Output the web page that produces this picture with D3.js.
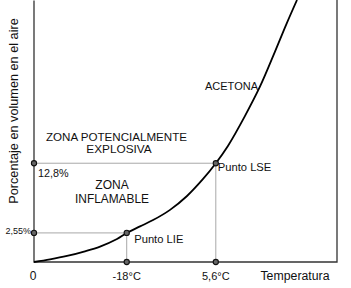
<!DOCTYPE html>
<html><head><meta charset="utf-8">
<script src="https://cdn.jsdelivr.net/npm/d3@7"></script>
<style>
html,body{margin:0;padding:0;background:#fff;}
svg{display:block;font-family:"Liberation Sans",Arial,Helvetica,sans-serif;}
</style></head>
<body>
<script>
// Acetona flammability curve (schematic units: x 0..100, y 0..100)
const curveX = [0,5.3,10.9,16.5,21.8,27.4,30.6,35,39.3,44.9,50.5,55.8,60,64,69.6,74.6,79.5,83.2,86.8];
const curveY = [0,1,2.3,4,5.9,8.8,11.1,13.6,16,19.9,25.2,31.7,37.7,44.3,55.7,67,80.2,90.5,100];
const pointNames = ["Punto LIE","Punto LSE"];
const pointX = [30.6, 60];
const pointY = [11.1, 37.7];
const yTickLabels = ["2,55%","12,8%"];
const xTickLabels = ["-18°C","5,6°C"];
const seriesName = "ACETONA";

const W = 351, H = 288;
const svg = d3.select("body").append("svg").attr("width", W).attr("height", H);
const x = d3.scaleLinear().domain([0,100]).range([34,337]);
const y = d3.scaleLinear().domain([0,100]).range([262,0]);

// guide lines
const g = svg.append("g");
pointX.forEach((px,i)=>{
  g.append("line").attr("x1",x(0)).attr("x2",x(px)).attr("y1",y(pointY[i])).attr("y2",y(pointY[i]))
   .attr("stroke","#a8a8a8").attr("stroke-width",1);
  g.append("line").attr("x1",x(px)).attr("x2",x(px)).attr("y1",y(pointY[i])).attr("y2",y(0))
   .attr("stroke","#a8a8a8").attr("stroke-width",1);
});

// frame: left, bottom, right
const frame = svg.append("g").attr("stroke","#333").attr("stroke-width",1.3).attr("fill","none");
frame.append("path").attr("d",`M${x(0)},${y(100)+0.5}V${y(0)}H${x(100)}V${y(100)}`);

// curve
const data = curveX.map((v,i)=>[v,curveY[i]]);
svg.append("path").datum(data)
  .attr("d", d3.line().x(d=>x(d[0])).y(d=>y(d[1])).curve(d3.curveCatmullRom))
  .attr("fill","none").attr("stroke","#000").attr("stroke-width",1.8);

// dots
const dots = [];
pointX.forEach((px,i)=>{ dots.push([px,pointY[i]]); dots.push([0,pointY[i]]); dots.push([px,0]); });
svg.append("g").selectAll("circle").data(dots).join("circle")
  .attr("cx",d=>x(d[0])).attr("cy",d=>y(d[1])).attr("r",2.6)
  .attr("fill","#666").attr("stroke","#111").attr("stroke-width",1.1);

const T = svg.append("g").attr("fill","#111");
// y-axis title
T.append("text").attr("transform",`translate(18,111) rotate(-90)`).attr("text-anchor","middle")
  .attr("font-size",12.7).text("Porcentaje en volumen en el aire");
// x-axis labels
T.append("text").attr("x",x(0)-1).attr("y",280).attr("text-anchor","middle").attr("font-size",12).text("0");
xTickLabels.forEach((t,i)=>{
  T.append("text").attr("x",x(pointX[i])).attr("y",280).attr("text-anchor","middle").attr("font-size",11).text(t);
});
T.append("text").attr("x",295).attr("y",280).attr("text-anchor","middle").attr("font-size",12.3).text("Temperatura");
// y labels
T.append("text").attr("x",x(0)-3).attr("y",y(pointY[0])+1.5).attr("text-anchor","end").attr("font-size",9).text(yTickLabels[0]);
T.append("text").attr("x",x(0)+4).attr("y",y(pointY[1])+14).attr("text-anchor","start").attr("font-size",10.8).text(yTickLabels[1]);
// point labels
T.append("text").attr("x",x(pointX[0])+7.5).attr("y",y(pointY[0])+10.5).attr("font-size",11.2).text(pointNames[0]);
T.append("text").attr("x",x(pointX[1])+2).attr("y",y(pointY[1])+8).attr("font-size",11.2).text(pointNames[1]);
// series label
T.append("text").attr("x",231.5).attr("y",90).attr("text-anchor","middle").attr("font-size",11).text(seriesName);
// zones
T.append("text").attr("x",116.5).attr("y",140.5).attr("text-anchor","middle").attr("font-size",11.6).text("ZONA POTENCIALMENTE");
T.append("text").attr("x",119).attr("y",153).attr("text-anchor","middle").attr("font-size",11.8).text("EXPLOSIVA");
T.append("text").attr("x",112).attr("y",189).attr("text-anchor","middle").attr("font-size",12).text("ZONA");
T.append("text").attr("x",112).attr("y",203).attr("text-anchor","middle").attr("font-size",11.9).text("INFLAMABLE");
</script>
</body></html>
